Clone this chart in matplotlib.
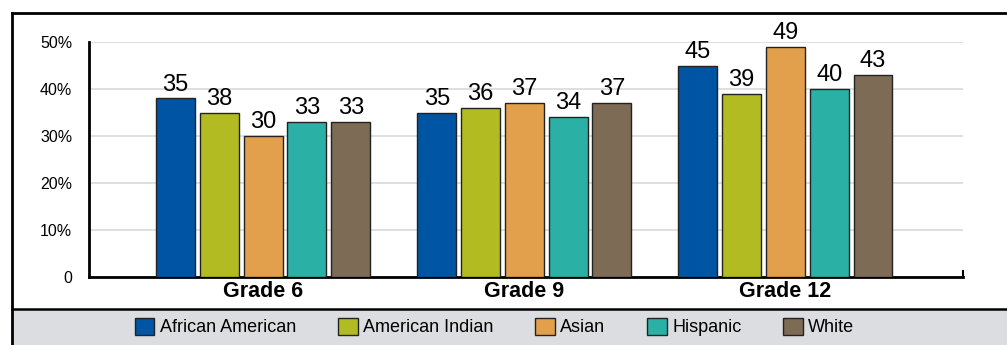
import matplotlib.pyplot as plt
import numpy as np
from matplotlib.patches import Rectangle, Patch
from matplotlib.lines import Line2D

plt.rcParams['font.family'] = ['Liberation Sans Narrow', 'Liberation Sans', 'DejaVu Sans']

grades = ['Grade 6', 'Grade 9', 'Grade 12']
groups = ['African American', 'American Indian', 'Asian', 'Hispanic', 'White']
colors = ['#0054a4', '#b2bc22', '#e3a04c', '#2bb0a6', '#7d6b56']

# bar heights as drawn (%)
heights = {
    'African American': [38, 35, 45],
    'American Indian': [35, 36, 39],
    'Asian': [30, 37, 49],
    'Hispanic': [33, 34, 40],
    'White': [33, 37, 43],
}
# value labels as printed above bars
labels = {
    'African American': ['35', '35', '45'],
    'American Indian': ['38', '36', '39'],
    'Asian': ['30', '37', '49'],
    'Hispanic': ['33', '34', '40'],
    'White': ['33', '37', '43'],
}
yticks = [0, 10, 20, 30, 40, 50]
ytick_labels = ['0', '10%', '20%', '30%', '40%', '50%']

fig = plt.figure(figsize=(10.07, 3.45), dpi=100)

# gray legend band + frame
fig.patches.append(Rectangle((12/1007, 0), 1, 35/345, transform=fig.transFigure,
                             facecolor='#dcdde0', edgecolor='none', zorder=0))
fig.lines.append(Line2D([12/1007, 1], [1 - 309/345]*2, transform=fig.transFigure,
                        color='black', lw=1.8))
fig.lines.append(Line2D([12/1007, 1], [1 - 13/345]*2, transform=fig.transFigure,
                        color='black', lw=2))
fig.lines.append(Line2D([12/1007]*2, [0, 1 - 13/345], transform=fig.transFigure,
                        color='black', lw=2))

ax = fig.add_axes([89/1007, 1 - 277/345, (963 - 89)/1007, (277 - 42)/345])

x = np.arange(len(grades))
step = 0.1676
width = 0.149
for i, g in enumerate(groups):
    xs = x + (i - 2) * step
    ax.bar(xs, heights[g], width=width, color=colors[i], edgecolor='#222222',
           linewidth=1, zorder=3)
    for xx, h, lab in zip(xs, heights[g], labels[g]):
        ax.annotate(lab, (xx, h), xytext=(0, 2), textcoords='offset points',
                    ha='center', va='bottom', fontsize=17, annotation_clip=False)

ax.set_xlim(-0.667, 2.68)
ax.set_ylim(0, 50)
ax.set_yticks(yticks)
ax.set_yticklabels(ytick_labels, fontsize=11.5)
ax.set_xticks(x)
ax.set_xticklabels(grades, fontsize=15.5, fontweight='bold')
ax.tick_params(axis='y', length=0, pad=12)
ax.tick_params(axis='x', length=0, pad=3)
ax.grid(True, axis='y', color='#d9d9d9', lw=1.2, zorder=0)
ax.set_axisbelow(True)
for s in ['top', 'right']:
    ax.spines[s].set_visible(False)
ax.spines['left'].set_linewidth(2)
ax.spines['bottom'].set_linewidth(2)
ax.plot([2.68, 2.68], [0, 1.2], color='black', lw=1.5, clip_on=False)

handles = [Patch(facecolor=c, edgecolor='#222222', lw=1) for c in colors]
fig.legend(handles, groups, loc='center', bbox_to_anchor=(0.491, 1 - 327/345),
           ncol=5, frameon=False, fontsize=13, handlelength=1.1, handleheight=1.1,
           handletextpad=0.3, columnspacing=2.3)

plt.savefig('out.png', dpi=100)
